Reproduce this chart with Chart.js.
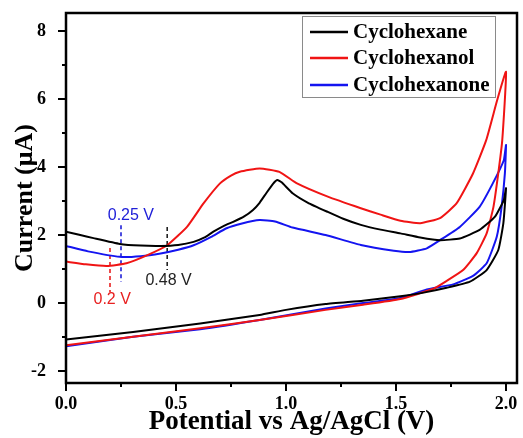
<!DOCTYPE html>
<html>
<head>
<meta charset="utf-8">
<script src="https://cdn.jsdelivr.net/npm/chart.js@4.4.0/dist/chart.umd.min.js"></script>
<style>
  html, body { margin: 0; padding: 0; background: #fff; }
  canvas { display: block; }
</style>
</head>
<body>
<canvas id="chart" width="523" height="438"></canvas>
<script>
// potential (V) and current (uA), forward scan then reverse scan
const hexaneV = [0, 0.06, 0.125, 0.245, 0.34, 0.43, 0.51, 0.58, 0.63, 0.67, 0.72, 0.76, 0.81, 0.85, 0.88, 0.91, 0.94, 0.96, 0.98, 1.03, 1.10, 1.19, 1.26, 1.34, 1.43, 1.52, 1.61, 1.70, 1.79, 1.88, 1.95, 1.99, 2.0,
  1.988, 1.965, 1.912, 1.836, 1.73, 1.62, 1.52, 1.35, 1.18, 1.0, 0.88, 0.61, 0.305, 0]
const hexaneI = [2.1, 2.01, 1.91, 1.74, 1.69, 1.68, 1.71, 1.8, 1.93, 2.1, 2.28, 2.39, 2.55, 2.74, 2.95, 3.23, 3.5, 3.62, 3.55, 3.23, 2.95, 2.68, 2.48, 2.3, 2.16, 2.05, 1.93, 1.85, 1.9, 2.15, 2.54, 3.03, 3.38,
  2.35, 1.56, 0.97, 0.63, 0.45, 0.3, 0.2, 0.07, -0.03, -0.2, -0.35, -0.6, -0.85, -1.07]

const hexanolV = [0, 0.09, 0.185, 0.275, 0.37, 0.46, 0.55, 0.625, 0.70, 0.75, 0.79, 0.88, 0.97, 1.05, 1.19, 1.34, 1.43, 1.52, 1.61, 1.70, 1.775, 1.85, 1.91, 1.96, 2.0,
  1.983, 1.965, 1.943, 1.912, 1.867, 1.805, 1.73, 1.67, 1.52, 1.35, 1.18, 0.88, 0.61, 0.305, 0]
const hexanolI = [1.22, 1.14, 1.09, 1.17, 1.41, 1.7, 2.24, 2.93, 3.52, 3.75, 3.86, 3.96, 3.86, 3.52, 3.13, 2.79, 2.6, 2.42, 2.35, 2.5, 2.93, 3.81, 4.79, 5.97, 6.8,
  4.79, 3.82, 2.83, 2.05, 1.47, 0.97, 0.65, 0.42, 0.12, -0.05, -0.2, -0.5, -0.74, -0.99, -1.24]

const hexanoneV = [0, 0.1, 0.245, 0.34, 0.43, 0.51, 0.58, 0.66, 0.73, 0.8, 0.88, 0.95, 1.03, 1.18, 1.34, 1.49, 1.56, 1.64, 1.7, 1.79, 1.88, 1.94, 1.99, 2.0,
  1.995, 1.98, 1.958, 1.912, 1.85, 1.76, 1.64, 1.52, 1.35, 1.18, 0.88, 0.61, 0.305, 0]
const hexanoneI = [1.68, 1.52, 1.36, 1.38, 1.46, 1.57, 1.7, 1.95, 2.2, 2.34, 2.44, 2.4, 2.22, 2.0, 1.71, 1.54, 1.5, 1.61, 1.85, 2.24, 2.83, 3.52, 4.2, 4.65,
  3.82, 2.83, 1.95, 1.17, 0.8, 0.55, 0.4, 0.15, 0.0, -0.16, -0.5, -0.77, -0.99, -1.27]

const seriesNames = ['Cyclohexane', 'Cyclohexanol', 'Cyclohexanone']
const seriesColors = ['#000000', '#f01414', '#1414f0']

// onset markers: potential, dashed line span, label and where the label sits
const markerV = [0.25, 0.2, 0.46]
const markerTop = [2.29, 1.62, 2.24]
const markerBottom = [0.63, 0.32, 0.97]
const markerText = ['0.25 V', '0.2 V', '0.48 V']
const markerColors = ['#2020d8', '#e82020', '#222222']
const labelV = [0.295, 0.21, 0.466]
const labelI = [2.56, 0.09, 0.65]

const xMajor = [0, 0.5, 1.0, 1.5, 2.0]
const xMinor = [0.25, 0.75, 1.25, 1.75]
const yMajor = [-2, 0, 2, 4, 6, 8]
const yMinor = [-1, 1, 3, 5, 7]

const toPoints = (xs, ys) => xs.map((x, i) => ({ x: x, y: ys[i] }))

const curves = [[hexaneV, hexaneI], [hexanolV, hexanolI], [hexanoneV, hexanoneI]]

const datasets = curves.map((c, i) => ({
  label: seriesNames[i],
  data: toPoints(c[0], c[1]),
  borderColor: seriesColors[i],
  borderWidth: 2,
  pointRadius: 0,
  showLine: true,
  tension: 0.15,
  fill: false
}))

markerV.forEach((v, i) => {
  datasets.push({
    label: 'marker' + i,
    data: [{ x: v, y: markerTop[i] }, { x: v, y: markerBottom[i] }],
    borderColor: markerColors[i],
    borderWidth: 1.6,
    borderDash: [4, 3],
    pointRadius: 0,
    showLine: true
  })
})

const serif = 'Liberation Serif'

const framePlugin = {
  id: 'frame',
  afterDraw(chart) {
    const { ctx, chartArea: a, scales } = chart
    ctx.save()
    ctx.strokeStyle = '#000'
    ctx.lineWidth = 2.5
    ctx.strokeRect(a.left, a.top, a.right - a.left, a.bottom - a.top)

    ctx.lineWidth = 2
    ctx.beginPath()
    const tickX = (v, len) => {
      const px = scales.x.getPixelForValue(v)
      ctx.moveTo(px, a.bottom)
      ctx.lineTo(px, a.bottom + len)
    }
    const tickY = (v, len) => {
      const py = scales.y.getPixelForValue(v)
      ctx.moveTo(a.left, py)
      ctx.lineTo(a.left - len, py)
    }
    xMajor.forEach(v => tickX(v, 8))
    xMinor.forEach(v => tickX(v, 4))
    yMajor.forEach(v => tickY(v, 8))
    yMinor.forEach(v => tickY(v, 4))
    ctx.stroke()

    // marker labels
    ctx.font = '16px "Liberation Sans"'
    ctx.textAlign = 'center'
    ctx.textBaseline = 'middle'
    markerText.forEach((t, i) => {
      ctx.fillStyle = markerColors[i]
      ctx.fillText(t, scales.x.getPixelForValue(labelV[i]), scales.y.getPixelForValue(labelI[i]))
    })

    // legend box
    ctx.strokeStyle = '#8a8a8a'
    ctx.lineWidth = 1
    ctx.strokeRect(302.5, 16.5, 193, 81)
    ctx.font = 'bold 21px "' + serif + '"'
    ctx.textAlign = 'left'
    const rows = [32, 58, 85]
    seriesNames.forEach((name, i) => {
      ctx.strokeStyle = seriesColors[i]
      ctx.lineWidth = 2.5
      ctx.beginPath()
      ctx.moveTo(310, rows[i])
      ctx.lineTo(348, rows[i])
      ctx.stroke()
      ctx.fillStyle = '#000'
      ctx.fillText(name, 353, rows[i] + 1)
    })
    ctx.restore()
  }
}

new Chart(document.getElementById('chart'), {
  type: 'scatter',
  data: { datasets: datasets },
  options: {
    responsive: false,
    animation: false,
    layout: { padding: { top: 13, right: 6, left: 0, bottom: 0 } },
    plugins: { legend: { display: false }, tooltip: { enabled: false } },
    scales: {
      x: {
        type: 'linear',
        min: 0,
        max: 2.05,
        grid: { display: false },
        border: { display: false },
        afterBuildTicks: s => { s.ticks = xMajor.map(v => ({ value: v })) },
        afterFit: s => { s.height = 55; s.paddingLeft = 0; s.paddingRight = 0 },
        ticks: {
          color: '#000',
          padding: 3,
          maxRotation: 0,
          font: { family: serif, size: 18, weight: 'bold' },
          callback: v => v.toFixed(1)
        },
        title: {
          display: true,
          text: 'Potential vs Ag/AgCl (V)',
          color: '#000',
          padding: { top: 0, bottom: 0 },
          font: { family: serif, size: 27, weight: 'bold' }
        }
      },
      y: {
        type: 'linear',
        min: -2.35,
        max: 8.53,
        grid: { display: false },
        border: { display: false },
        afterBuildTicks: s => { s.ticks = yMajor.map(v => ({ value: v })) },
        afterFit: s => { s.width = 66; s.paddingTop = 0; s.paddingBottom = 0 },
        ticks: {
          color: '#000',
          padding: 12,
          font: { family: serif, size: 18, weight: 'bold' },
          callback: v => String(v)
        },
        title: {
          display: true,
          text: 'Current (μA)',
          color: '#000',
          padding: { top: 10, bottom: 0 },
          font: { family: serif, size: 26, weight: 'bold' }
        }
      }
    }
  },
  plugins: [framePlugin]
})
</script>
</body>
</html>
